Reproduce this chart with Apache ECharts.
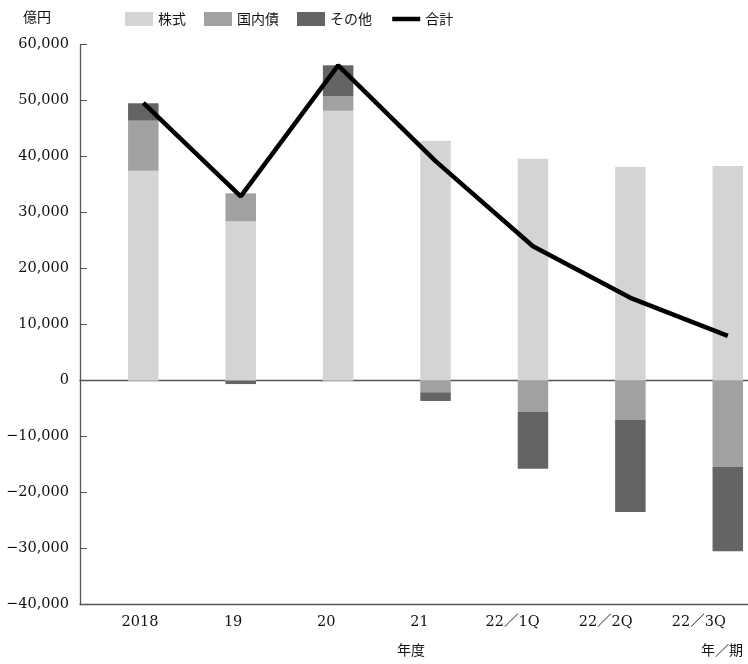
<!DOCTYPE html>
<html><head><meta charset="utf-8">
<script src="https://cdn.jsdelivr.net/npm/echarts@6/dist/echarts.min.js"></script>
<style>html,body{margin:0;padding:0;background:#fff}#c{width:748px;height:664px}</style>
</head><body><div id="c"></div>
<script>
const categories = ['2018', '19', '20', '21', '22／1Q', '22／2Q', '22／3Q'];
const stocks = [37500, 28460, 48200, 42860, 39640, 38160, 38340];
const bonds = [8930, 5000, 2640, -2070, -5540, -7020, -15410];
const others = [3110, -600, 5480, -1550, -10180, -16430, -15050];
const total = [49600, 32900, 56300, 39200, 24000, 14800, 8000];
const seriesNames = ['株式', '国内債', 'その他', '合計'];
const yMin = -40000, yMax = 60000, yStep = 10000;

const FONT = '"DejaVu Serif", "Noto Sans CJK JP", serif';
const JP = '"Noto Sans CJK JP", sans-serif';
const AX = '#555';
const TXT = '#111';
const gTop = 44.7, gH = 560;

const fmt = v => (v < 0 ? '−' : '') + Math.abs(v).toLocaleString('en-US');

const chart = echarts.init(document.getElementById('c'), null, {renderer: 'canvas'});
chart.setOption({
  animation: false,
  backgroundColor: '#fff',
  legend: {
    top: 12, left: 125, padding: 0,
    itemWidth: 28, itemHeight: 14, itemGap: 18,
    textStyle: {fontFamily: JP, fontSize: 14, color: TXT},
    data: [
      {name: seriesNames[0], icon: 'rect'},
      {name: seriesNames[1], icon: 'rect'},
      {name: seriesNames[2], icon: 'rect'},
      {name: seriesNames[3], itemStyle: {opacity: 0}, lineStyle: {width: 4.5, color: '#000'}}
    ]
  },
  grid: [
    {left: 80, top: gTop, width: 668, height: gH, outerBoundsMode: 'none', containLabel: false},
    {left: 93.4, top: gTop, width: 652, height: gH, outerBoundsMode: 'none', containLabel: false},
    {left: 94.6, top: gTop, width: 681.9, height: gH, outerBoundsMode: 'none', containLabel: false}
  ],
  xAxis: [
    {gridIndex: 0, type: 'category', data: [''], position: 'bottom',
     axisLine: {onZero: false, lineStyle: {color: AX, width: 1.3}},
     axisTick: {show: false}, axisLabel: {show: false}},
    {gridIndex: 0, type: 'category', data: [''], position: 'top',
     axisLine: {onZero: true, lineStyle: {color: AX, width: 1.3}},
     axisTick: {show: false}, axisLabel: {show: false}},
    {gridIndex: 1, type: 'category', data: categories, position: 'bottom',
     axisLine: {show: false, onZero: false},
     axisTick: {inside: true, length: 7, alignWithLabel: true, lineStyle: {color: AX}},
     axisLabel: {margin: 10, fontFamily: FONT, fontSize: 14.5, color: TXT}},
    {gridIndex: 2, type: 'category', data: categories, show: false,
     axisLine: {onZero: false}}
  ],
  yAxis: [
    {gridIndex: 0, type: 'value', min: yMin, max: yMax, interval: yStep,
     axisLine: {show: true, lineStyle: {color: AX, width: 1.3}},
     axisTick: {show: true, inside: true, length: 7, lineStyle: {color: AX}},
     splitLine: {show: false},
     axisLabel: {margin: 11, formatter: fmt, fontFamily: FONT, fontSize: 14.5, color: TXT}},
    {gridIndex: 1, type: 'value', min: yMin, max: yMax, interval: yStep, show: false, splitLine: {show: false}},
    {gridIndex: 2, type: 'value', min: yMin, max: yMax, interval: yStep, show: false, splitLine: {show: false}}
  ],
  series: [
    {name: seriesNames[0], type: 'bar', xAxisIndex: 3, yAxisIndex: 2, stack: 's', barWidth: 30.5,
     itemStyle: {color: '#d4d4d4'}, data: stocks},
    {name: seriesNames[1], type: 'bar', xAxisIndex: 3, yAxisIndex: 2, stack: 's', barWidth: 30.5,
     itemStyle: {color: '#a0a1a0'}, data: bonds},
    {name: seriesNames[2], type: 'bar', xAxisIndex: 3, yAxisIndex: 2, stack: 's', barWidth: 30.5,
     itemStyle: {color: '#646464'}, data: others},
    {name: seriesNames[3], type: 'line', xAxisIndex: 3, yAxisIndex: 2, symbol: 'none', z: 5,
     lineStyle: {color: '#000', width: 4.5}, itemStyle: {color: '#000'}, data: total}
  ],
  graphic: [
    {type: 'text', left: 23, top: 10, style: {text: '億円', font: '14px ' + JP, fill: TXT}},
    {type: 'text', left: 397, top: 643, style: {text: '年度', font: '14px ' + JP, fill: TXT}},
    {type: 'text', left: 701, top: 643, style: {text: '年／期', font: '14px ' + JP, fill: TXT}}
  ]
});
</script></body></html>
